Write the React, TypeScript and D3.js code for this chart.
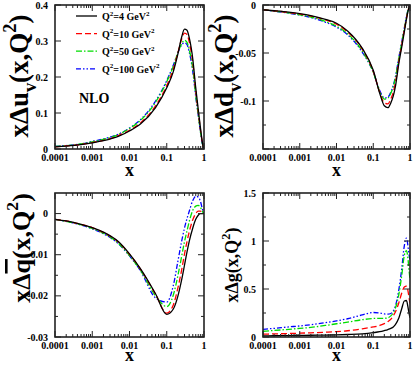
import React from 'react';
import * as d3 from 'd3';

const xGrid = [1e-4, 2e-4, 5e-4, 1e-3, 2e-3, 5e-3, 0.01, 0.02, 0.05, 0.1, 0.15, 0.2, 0.25, 0.3, 0.35, 0.4, 0.5, 0.6, 0.7, 0.8, 0.9, 0.95, 1];

const q2Values = [4, 10, 50, 100];

// x Δu_v
const uvQ4 = [0.006, 0.008, 0.012, 0.017, 0.023, 0.035, 0.050, 0.070, 0.115, 0.170, 0.215, 0.265, 0.31, 0.333, 0.33, 0.31, 0.25, 0.17, 0.11, 0.06, 0.02, 0.007, 0];
const uvQ10 = [0.006, 0.0085, 0.0125, 0.018, 0.024, 0.037, 0.052, 0.073, 0.12, 0.176, 0.222, 0.268, 0.305, 0.322, 0.318, 0.298, 0.24, 0.162, 0.104, 0.055, 0.018, 0.006, 0];
const uvQ50 = [0.007, 0.009, 0.014, 0.020, 0.027, 0.040, 0.057, 0.080, 0.13, 0.187, 0.23, 0.268, 0.292, 0.302, 0.296, 0.277, 0.222, 0.15, 0.096, 0.05, 0.016, 0.005, 0];
const uvQ100 = [0.007, 0.0095, 0.014, 0.021, 0.028, 0.041, 0.058, 0.082, 0.133, 0.19, 0.233, 0.268, 0.289, 0.295, 0.29, 0.27, 0.215, 0.146, 0.093, 0.048, 0.015, 0.004, 0];

// x Δd_v
const dvQ4 = [-0.005, -0.006, -0.0075, -0.009, -0.011, -0.015, -0.019, -0.027, -0.045, -0.068, -0.092, -0.105, -0.107, -0.102, -0.095, -0.085, -0.06, -0.043, -0.028, -0.015, -0.005, -0.002, 0];
const dvQ10 = [-0.005, -0.006, -0.0078, -0.0095, -0.0115, -0.0155, -0.02, -0.028, -0.046, -0.069, -0.091, -0.102, -0.103, -0.098, -0.091, -0.081, -0.058, -0.041, -0.026, -0.014, -0.005, -0.0015, 0];
const dvQ50 = [-0.005, -0.0063, -0.0083, -0.0102, -0.0125, -0.0172, -0.022, -0.030, -0.048, -0.07, -0.09, -0.098, -0.097, -0.092, -0.085, -0.076, -0.055, -0.039, -0.025, -0.013, -0.004, -0.0013, 0];
const dvQ100 = [-0.005, -0.0065, -0.0085, -0.0105, -0.013, -0.018, -0.023, -0.031, -0.049, -0.07, -0.089, -0.097, -0.096, -0.091, -0.084, -0.075, -0.054, -0.038, -0.024, -0.012, -0.004, -0.001, 0];

// x Δqbar
const qbQ4 = [-0.0014, -0.0018, -0.0026, -0.0034, -0.0045, -0.0068, -0.0098, -0.0135, -0.0195, -0.0245, -0.0232, -0.0200, -0.0162, -0.0125, -0.0093, -0.0068, -0.0035, -0.0014, -0.0004, 0, 0, 0, 0];
const qbQ10 = [-0.0014, -0.0018, -0.0026, -0.0034, -0.0046, -0.0069, -0.0099, -0.0136, -0.0196, -0.0242, -0.0222, -0.0180, -0.0138, -0.0098, -0.0068, -0.0045, -0.0015, 0, 0.0006, 0.0006, 0.0003, 0.0001, 0];
const qbQ50 = [-0.0014, -0.0019, -0.0027, -0.0036, -0.0048, -0.0072, -0.0102, -0.0139, -0.0200, -0.0226, -0.0198, -0.0150, -0.0105, -0.0068, -0.0042, -0.0020, 0.0008, 0.0018, 0.0020, 0.0015, 0.0006, 0.0002, 0];
const qbQ100 = [-0.0014, -0.0019, -0.0028, -0.0037, -0.0049, -0.0073, -0.0103, -0.0140, -0.0205, -0.0215, -0.0175, -0.0115, -0.0068, -0.0035, -0.0012, 0.0005, 0.0032, 0.0042, 0.0040, 0.0030, 0.0012, 0.0004, 0];

// x Δg
const gQ4 = [0.012, 0.013, 0.015, 0.016, 0.018, 0.02, 0.022, 0.026, 0.033, 0.045, 0.055, 0.067, 0.078, 0.09, 0.105, 0.13, 0.2, 0.3, 0.375, 0.38, 0.29, 0.24, 0.2];
const gQ10 = [0.03, 0.032, 0.036, 0.04, 0.044, 0.05, 0.056, 0.065, 0.085, 0.105, 0.12, 0.14, 0.16, 0.185, 0.22, 0.26, 0.36, 0.46, 0.52, 0.53, 0.46, 0.4, 0.35];
const gQ50 = [0.06, 0.068, 0.08, 0.09, 0.1, 0.12, 0.138, 0.155, 0.18, 0.193, 0.195, 0.195, 0.2, 0.22, 0.25, 0.3, 0.45, 0.65, 0.85, 0.9, 0.78, 0.68, 0.6];
const gQ100 = [0.08, 0.09, 0.105, 0.115, 0.128, 0.15, 0.168, 0.19, 0.23, 0.255, 0.25, 0.24, 0.238, 0.245, 0.27, 0.32, 0.5, 0.72, 0.95, 1.03, 0.92, 0.85, 0.8];

const xTickValues = [1e-4, 1e-3, 1e-2, 1e-1, 1];
const xTickLabels = ['0.0001', '0.001', '0.01', '0.1', '1'];

const colors = ['#000000', '#ff0000', '#00dd00', '#0000ff'];
const dashes = ['none', '6,3', '6,2,1.5,2', '5,2,1.5,2,1.5,2'];

const FONT = "'Liberation Serif', 'Times New Roman', serif";

type LabelSpec = { base: string; sub?: string; bar?: boolean };

function YLabel({ spec, x, y, size }: { spec: LabelSpec; x: number; y: number; size: number }) {
  const s = size * 0.68;
  const subDy = size * 0.28;
  const supDy = size * 0.45;
  return (
    <text transform={`translate(${x},${y}) rotate(-90)`} textAnchor="middle" fontFamily={FONT} fontWeight="bold" fontSize={size} fill="#000">
      <tspan>x&#916;</tspan>
      {spec.bar ? <tspan style={{ textDecoration: 'overline' }}>{spec.base}</tspan> : <tspan>{spec.base}</tspan>}
      {spec.sub ? <tspan fontSize={s} dy={subDy}>{spec.sub}</tspan> : null}
      <tspan dy={spec.sub ? -subDy : 0}>(x,Q</tspan>
      <tspan fontSize={s} dy={-supDy}>2</tspan>
      <tspan dy={supDy}>)</tspan>
    </text>
  );
}

interface PanelProps {
  left: number; top: number; width: number; height: number;
  yDomain: [number, number];
  yMajor: number[]; yMinor: number[]; yLabels: number[];
  series: number[][];
  label: LabelSpec; labelX: number; labelY: number; labelSize: number;
  titleOffset: number;
  legend?: boolean;
}

function Panel(p: PanelProps) {
  const x = d3.scaleLog().domain([1e-4, 1]).range([p.left, p.left + p.width]);
  const y = d3.scaleLinear().domain(p.yDomain).range([p.top + p.height, p.top]);
  const line = d3.line<number>()
    .x((_, i) => x(xGrid[i]))
    .y((d) => y(d))
    .curve(d3.curveMonotoneX);
  const bottom = p.top + p.height;
  const right = p.left + p.width;
  const minorX: number[] = [];
  for (let e = -4; e < 0; e++) for (let k = 2; k <= 9; k++) minorX.push(k * Math.pow(10, e));
  const frameColor = '#222';
  const fmt = (v: number) => String(+v.toFixed(4));
  return (
    <g>
      <defs>
        <clipPath id={`clip-${p.left}-${p.top}`}>
          <rect x={p.left} y={p.top} width={p.width} height={p.height} />
        </clipPath>
      </defs>
      <g clipPath={`url(#clip-${p.left}-${p.top})`}>
        {p.series.map((s, i) => (
          <path key={i} d={line(s) || ''} fill="none" stroke={colors[i]} strokeWidth={1.3}
            strokeDasharray={dashes[i]} />
        )).reverse()}
      </g>
      <g stroke={frameColor} strokeWidth={1}>
        {xTickValues.map((v) => (
          <g key={'xm' + v}>
            <line x1={x(v)} x2={x(v)} y1={bottom} y2={bottom - 6} />
            <line x1={x(v)} x2={x(v)} y1={p.top} y2={p.top + 6} />
          </g>
        ))}
        {minorX.map((v) => (
          <g key={'xn' + v}>
            <line x1={x(v)} x2={x(v)} y1={bottom} y2={bottom - 3} />
            <line x1={x(v)} x2={x(v)} y1={p.top} y2={p.top + 3} />
          </g>
        ))}
        {p.yMajor.map((v) => (
          <g key={'ym' + v}>
            <line x1={p.left} x2={p.left + 6} y1={y(v)} y2={y(v)} />
            <line x1={right} x2={right - 6} y1={y(v)} y2={y(v)} />
          </g>
        ))}
        {p.yMinor.map((v) => (
          <g key={'yn' + v}>
            <line x1={p.left} x2={p.left + 3} y1={y(v)} y2={y(v)} />
            <line x1={right} x2={right - 3} y1={y(v)} y2={y(v)} />
          </g>
        ))}
      </g>
      <rect x={p.left} y={p.top} width={p.width} height={p.height} fill="none" stroke={frameColor} strokeWidth={1.6} />
      <g fontFamily={FONT} fontWeight="bold" fontSize={10} fill="#000">
        {xTickValues.map((v, i) => (
          <text key={'xl' + v} x={x(v)} y={bottom + 12} textAnchor="middle">{xTickLabels[i]}</text>
        ))}
        {p.yLabels.map((v) => (
          <text key={'yl' + v} x={p.left - 7} y={y(v) + 3.5} textAnchor="end">{fmt(v)}</text>
        ))}
      </g>
      <text x={(p.left + right) / 2} y={bottom + p.titleOffset} textAnchor="middle" fontFamily={FONT} fontWeight="bold" fontSize={18}>x</text>
      <YLabel spec={p.label} x={p.labelX} y={p.labelY} size={p.labelSize} />
      {p.legend ? (
        <g fontFamily={FONT} fontWeight="bold" fontSize={10}>
          {q2Values.map((q, i) => {
            const ly = p.top + 11 + i * 17.6;
            return (
              <g key={'lg' + q}>
                <line x1={p.left + 21} x2={p.left + 42} y1={ly} y2={ly} stroke={colors[i]} strokeWidth={1.3} strokeDasharray={dashes[i]} />
                <text x={p.left + 47} y={ly + 4}>
                  <tspan>Q</tspan>
                  <tspan fontSize={7} dy={-4.5}>2</tspan>
                  <tspan dy={4.5}>{`=${q} GeV`}</tspan>
                  <tspan fontSize={7} dy={-4.5}>2</tspan>
                </text>
              </g>
            );
          })}
          <text x={p.left + 24} y={p.top + 98} fontSize={14}>NLO</text>
        </g>
      ) : null}
    </g>
  );
}

export default function App() {
  return (
    <svg width={415} height={365} style={{ position: 'absolute', left: 0, top: 0, background: '#fff' }}>
      <rect x={0} y={0} width={415} height={365} fill="#fff" />
      <Panel left={55} top={5} width={149} height={144}
        yDomain={[0, 0.4]} yMajor={[0, 0.1, 0.2, 0.3, 0.4]} yMinor={[]} yLabels={[0, 0.1, 0.2, 0.3, 0.4]}
        series={[uvQ4, uvQ10, uvQ50, uvQ100]} titleOffset={27}
        label={{ base: 'u', sub: 'v' }} labelX={28} labelY={76} labelSize={27} legend />
      <Panel left={263} top={5} width={147} height={144}
        yDomain={[-0.15, 0]} yMajor={[0, -0.05, -0.1, -0.15]} yMinor={[-0.025, -0.075, -0.125]} yLabels={[0, -0.05, -0.1]}
        series={[dvQ4, dvQ10, dvQ50, dvQ100]} titleOffset={27}
        label={{ base: 'd', sub: 'v' }} labelX={233} labelY={76} labelSize={27} />
      <Panel left={55} top={193} width={149} height={144}
        yDomain={[-0.03, 0.005]} yMajor={[0, -0.01, -0.02, -0.03]} yMinor={[-0.005, -0.015, -0.025]} yLabels={[0, -0.01, -0.02, -0.03]}
        series={[qbQ4, qbQ10, qbQ50, qbQ100]} titleOffset={24}
        label={{ base: 'q', bar: true }} labelX={30} labelY={248} labelSize={26} />
      <Panel left={263} top={193} width={147} height={144}
        yDomain={[0, 1.5]} yMajor={[0, 0.5, 1, 1.5]} yMinor={[0.25, 0.75, 1.25]} yLabels={[0, 0.5, 1, 1.5]}
        series={[gQ4, gQ10, gQ50, gQ100]} titleOffset={24}
        label={{ base: 'g' }} labelX={238} labelY={265} labelSize={18} />
    </svg>
  );
}
